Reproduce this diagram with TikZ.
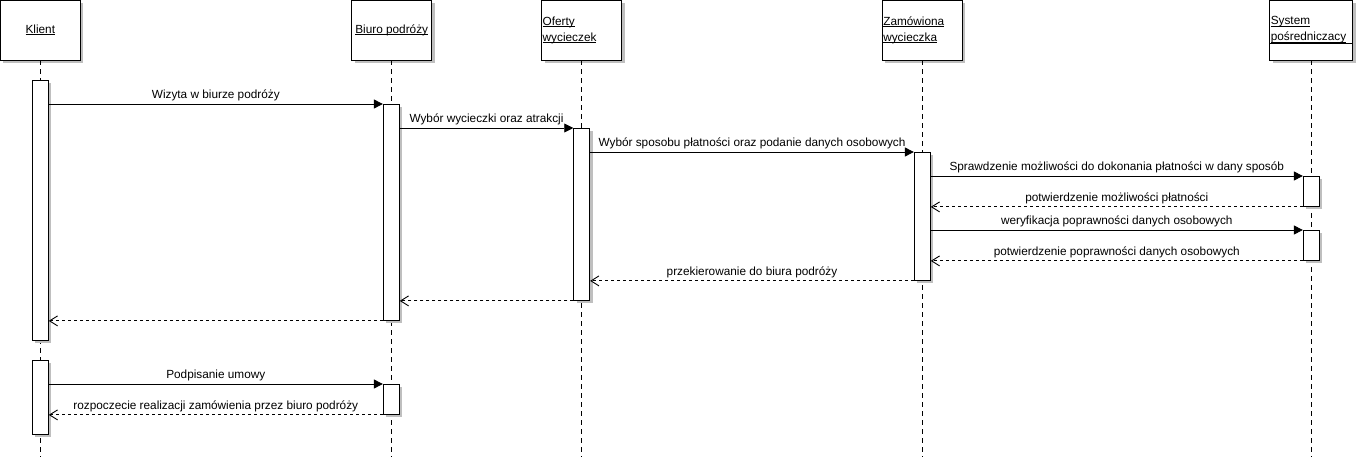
\documentclass[tikz,border=0pt]{standalone}
\usepackage{fontspec}
\setmainfont{Liberation Sans}
\usetikzlibrary{arrows.meta,shadows}
\newcommand\hdul[1]{\leavevmode\setbox0\hbox{#1}\rlap{\rule[-1.8pt]{\wd0}{0.8pt}}\box0}

\begin{document}
\begin{tikzpicture}[x=1pt,y=-1pt,line width=0.9pt,
  font=\fontsize{11.8}{16}\selectfont,
  shade/.style={drop shadow={shadow xshift=3pt,shadow yshift=-3pt,fill=black!25,opacity=1}},
  head/.style={draw,fill=white,shade,minimum width=80pt,minimum height=60pt,inner sep=1pt},
  bar/.style={draw,fill=white,shade,minimum width=16pt,inner sep=0pt,anchor=north},
  life/.style={dash pattern=on 5pt off 4pt},
  call/.style={-{Triangle[length=9pt,width=9pt]}},
  reply/.style={dash pattern=on 3pt off 3pt,-{Straight Barb[length=8pt,width=10pt]}},
  lab/.style={above,inner sep=3pt}]
\useasboundingbox (0,0) rectangle (1356,457);

% heads
\node[head] (kl) at (40.3,30) {\hdul{Klient}};
\node[head] (bi) at (391.7,30) {\hdul{Biuro podróży}};
\node[head,text width=78pt,align=left] (of) at (581.7,30) {\hdul{Oferty}\\\hdul{wycieczek}};
\node[head,text width=78pt,align=left] (za) at (922.3,30) {\hdul{Zamówiona}\\\hdul{wycieczka}};
\node[head,minimum width=83pt,text width=81pt,align=left] (sy) at (1311.3,30) {\hdul{System}\\\hdul{pośredniczacy}};
\draw ([yshift=-44pt]sy.north west) -- ([yshift=-44pt]sy.north east);

% lifelines
\foreach \n in {kl,bi,of,za,sy}
  \draw[life] (\n.south) -- ++(0,397);

% activations
\node[bar,minimum height=260pt] (kb1) at (40.3,80) {};
\node[bar,minimum height=74pt] (kb2) at (40.3,360) {};
\node[bar,minimum height=216pt] (bb1) at (391.3,104) {};
\node[bar,minimum height=30pt] (bb2) at (391.3,384) {};
\node[bar,minimum height=172pt] (ob) at (581.7,128) {};
\node[bar,minimum height=128pt] (zb) at (922.3,152) {};
\node[bar,minimum height=30pt] (sb1) at (1311.3,176) {};
\node[bar,minimum height=30pt] (sb2) at (1311.3,230) {};

% messages
\draw[call] (kb1.east |- bb1.north) -- node[lab]{Wizyta w biurze podróży} (bb1.north west);
\draw[call] (bb1.east |- ob.north) -- node[lab]{Wybór wycieczki oraz atrakcji} (ob.north west);
\draw[call] (ob.east |- zb.north) -- node[lab]{Wybór sposobu płatności oraz podanie danych osobowych} (zb.north west);
\draw[call] (zb.east |- sb1.north) -- node[lab]{Sprawdzenie możliwości do dokonania płatności w dany sposób} (sb1.north west);
\draw[reply] (sb1.south west) -- node[lab]{potwierdzenie możliwości płatności} (zb.east |- sb1.south);
\draw[call] (zb.east |- sb2.north) -- node[lab]{weryfikacja poprawności danych osobowych} (sb2.north west);
\draw[reply] (sb2.south west) -- node[lab]{potwierdzenie poprawności danych osobowych} (zb.east |- sb2.south);
\draw[reply] (zb.south west) -- node[lab]{przekierowanie do biura podróży} (ob.east |- zb.south);
\draw[reply] (ob.south west) -- (bb1.east |- ob.south);
\draw[reply] (bb1.south west) -- (kb1.east |- bb1.south);
\draw[call] (kb2.east |- bb2.north) -- node[lab]{Podpisanie umowy} (bb2.north west);
\draw[reply] (bb2.south west) -- node[lab]{rozpoczecie realizacji zamówienia przez biuro podróży} (kb2.east |- bb2.south);
\end{tikzpicture}
\end{document}
